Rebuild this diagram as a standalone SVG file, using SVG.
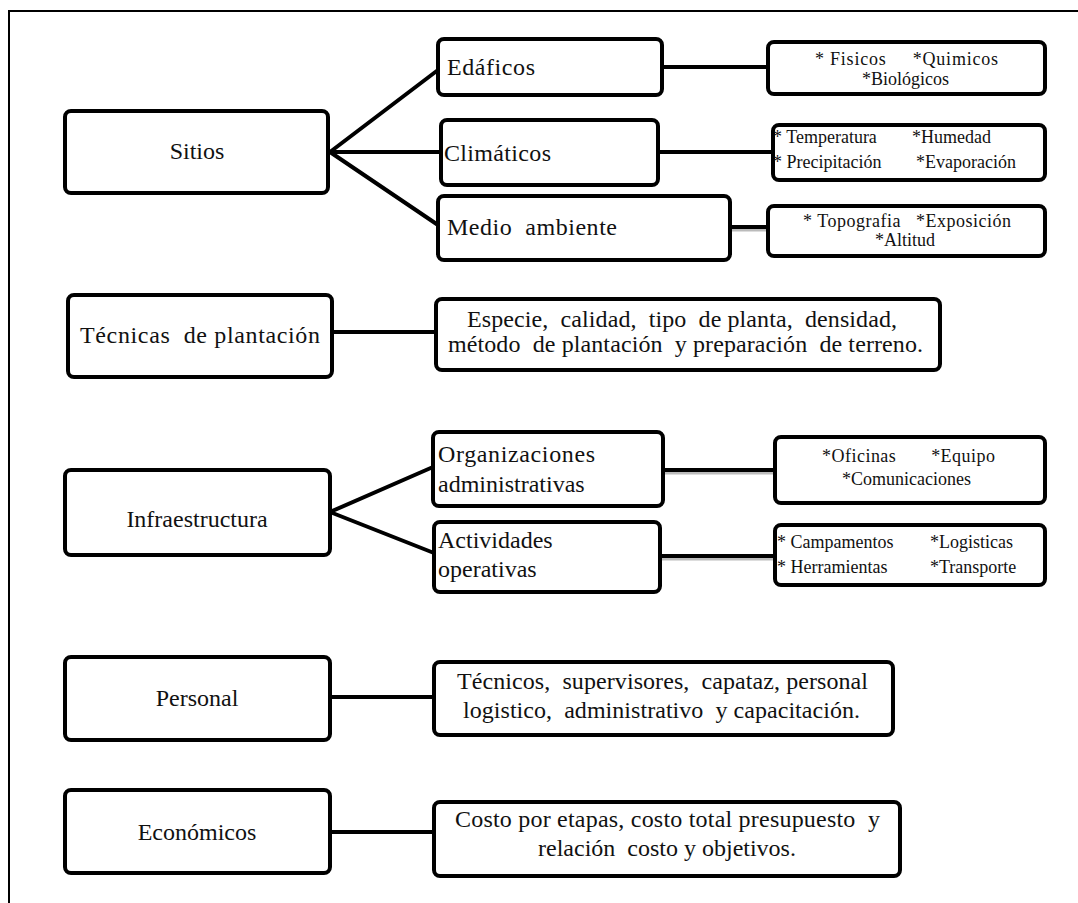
<svg xmlns="http://www.w3.org/2000/svg" width="1078" height="903" viewBox="0 0 1078 903">
<style>
.box{fill:#fff;stroke:#000;stroke-width:4}
.ln{stroke:#000;stroke-width:4;fill:none}
.sh{stroke:#bbb;stroke-width:3;fill:none}
text{font-family:'Liberation Serif','Times New Roman',serif;fill:#111}
.t{font-size:24px}
.s{font-size:18px}
.c{text-anchor:middle}
</style>
<rect width="1078" height="903" fill="#fff"/>
<path d="M9,903 V11 H1078" fill="none" stroke="#000" stroke-width="2"/>
<g id="connectors">
<path class="ln" d="M330,152 L438,70 M330,152 H441 M330,152 L438,225"/>
<path class="ln" d="M662,67 H768 M658,152 H773"/>
<path class="sh" d="M730,230 H768"/>
<path class="ln" d="M730,227 H768"/>
<path class="ln" d="M332,332 H436"/>
<path class="ln" d="M330,512 L433,467 M330,512 L434,553"/>
<path class="sh" d="M663,473 H775 M660,559 H775"/>
<path class="ln" d="M663,470 H775 M660,556 H775"/>
<path class="ln" d="M330,697 H434"/>
<path class="ln" d="M330,832 H434"/>
</g>
<g id="sitios"><rect class="box" x="65" y="111" width="263" height="82" rx="6"/><text class="t c" x="197" y="159">Sitios</text></g>
<g id="edaficos"><rect class="box" x="438" y="39" width="224" height="56" rx="6"/><text class="t" x="447" y="75" textLength="88">Edáficos</text></g>
<g id="climaticos"><rect class="box" x="441" y="120" width="217" height="65" rx="6"/><text class="t" x="444" y="161" textLength="107">Climáticos</text></g>
<g id="medio"><rect class="box" x="438" y="196" width="292" height="64" rx="6"/><text class="t" x="447" y="235" textLength="170" xml:space="preserve">Medio  ambiente</text></g>
<g id="fisicos"><rect class="box" x="768" y="42" width="277" height="52" rx="6"/><text class="s" x="815" y="65" textLength="183" xml:space="preserve">* Fisicos     *Quimicos</text><text class="s" x="862" y="85">*Biológicos</text></g>
<g id="clima-detalle"><rect class="box" x="773" y="125" width="272" height="55" rx="6"/><text class="s" x="773" y="143">* Temperatura</text><text class="s" x="912" y="143">*Humedad</text><text class="s" x="773" y="168">* Precipitación</text><text class="s" x="916" y="168">*Evaporación</text></g>
<g id="topografia"><rect class="box" x="768" y="206" width="277" height="50" rx="6"/><text class="s" x="803" y="227" textLength="208" xml:space="preserve">* Topografia   *Exposición</text><text class="s" x="875" y="246">*Altitud</text></g>
<g id="tecnicas"><rect class="box" x="68" y="295" width="264" height="82" rx="6"/><text class="t" x="80" y="343" textLength="240" xml:space="preserve">Técnicas  de plantación</text></g>
<g id="especie"><rect class="box" x="436" y="299" width="504" height="71" rx="6"/><text class="t" x="467" y="327" textLength="430" xml:space="preserve">Especie,  calidad,  tipo  de planta,  densidad,</text><text class="t" x="448" y="352" textLength="475" xml:space="preserve">método  de plantación  y preparación  de terreno.</text></g>
<g id="infraestructura"><rect class="box" x="65" y="470" width="265" height="85" rx="6"/><text class="t c" x="197" y="527">Infraestructura</text></g>
<g id="organizaciones"><rect class="box" x="433" y="432" width="230" height="74" rx="6"/><text class="t" x="438" y="462" textLength="157">Organizaciones</text><text class="t" x="438" y="492">administrativas</text></g>
<g id="actividades"><rect class="box" x="434" y="522" width="226" height="70" rx="6"/><text class="t" x="438" y="548">Actividades</text><text class="t" x="438" y="577">operativas</text></g>
<g id="oficinas"><rect class="box" x="775" y="437" width="270" height="66" rx="6"/><text class="s" x="822" y="462" textLength="173" xml:space="preserve">*Oficinas       *Equipo</text><text class="s" x="842" y="485">*Comunicaciones</text></g>
<g id="campamentos"><rect class="box" x="775" y="525" width="270" height="60" rx="6"/><text class="s" x="777" y="548">* Campamentos</text><text class="s" x="930" y="548">*Logisticas</text><text class="s" x="777" y="573">* Herramientas</text><text class="s" x="930" y="573">*Transporte</text></g>
<g id="personal"><rect class="box" x="65" y="657" width="265" height="83" rx="6"/><text class="t c" x="197" y="706">Personal</text></g>
<g id="tecnicos"><rect class="box" x="434" y="662" width="459" height="73" rx="6"/><text class="t" x="457" y="689" textLength="411" xml:space="preserve">Técnicos,  supervisores,  capataz, personal</text><text class="t" x="463" y="718" textLength="397" xml:space="preserve">logistico,  administrativo  y capacitación.</text></g>
<g id="economicos"><rect class="box" x="65" y="790" width="265" height="83" rx="6"/><text class="t c" x="197" y="840">Económicos</text></g>
<g id="costo"><rect class="box" x="434" y="802" width="466" height="74" rx="6"/><text class="t" x="455" y="827" textLength="425" xml:space="preserve">Costo por etapas, costo total presupuesto  y</text><text class="t c" x="667" y="856" xml:space="preserve">relación  costo y objetivos.</text></g>
</svg>
